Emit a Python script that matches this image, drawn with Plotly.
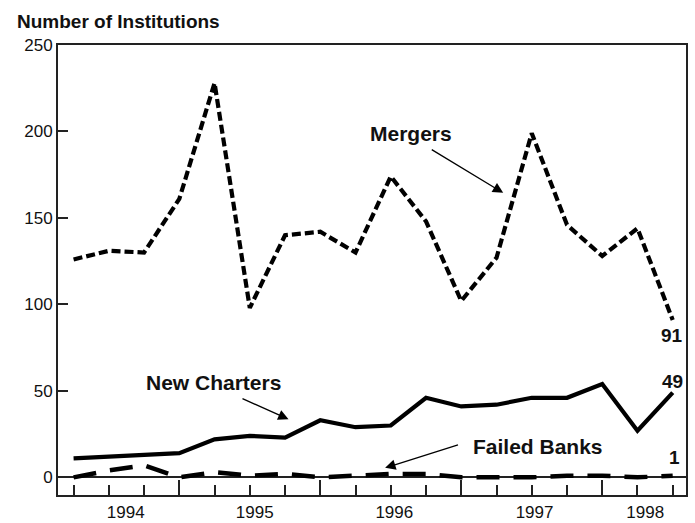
import plotly.graph_objects as go

# quarterly, 1994 Q1 .. 1998 Q2
quarters = list(range(18))
mergers = [126, 131, 130, 161, 228, 98, 140, 142, 130, 174, 148, 102, 127, 199, 146, 128, 144, 91]
new_charters = [11, 12, 13, 14, 22, 24, 23, 33, 29, 30, 46, 41, 42, 46, 46, 54, 27, 49]
failed_banks = [0, 4, 7, 0, 3, 1, 2, 0, 1, 2, 2, 0, 0, 0, 1, 1, 0, 1]

year_labels = ["1994", "1995", "1996", "1997", "1998"]
year_pos = [1.48, 5.14, 9.1, 13.08, 16.22]
year_breaks = [3, 7, 11, 15]

FONT = "Liberation Sans, Arial, sans-serif"
INK = "#222222"

fig = go.Figure()
# failed banks sits on the overlay axis that carries the year labels (same range)
fig.add_trace(go.Scatter(x=quarters, y=failed_banks, mode="lines", xaxis="x2",
                         line=dict(color="black", width=4.5, dash="23px,14px")))
fig.add_trace(go.Scatter(x=quarters, y=new_charters, mode="lines",
                         line=dict(color="black", width=4.2)))
fig.add_trace(go.Scatter(x=quarters, y=mergers, mode="lines",
                         line=dict(color="black", width=4.2, dash="9px,4px")))

xr = [-0.442, 17.377]
fig.update_layout(
    width=695, height=523,
    margin=dict(l=58, r=9, t=45, b=28, autoexpand=False),
    plot_bgcolor="white", paper_bgcolor="white",
    showlegend=False, hovermode=False,
    font=dict(family=FONT, size=17, color="#111111"),
    xaxis=dict(range=xr, tickvals=year_breaks, ticks="inside", ticklen=15, tickwidth=1.5,
               tickcolor=INK, showticklabels=False, showgrid=False, zeroline=False,
               showline=True, linewidth=2, linecolor=INK, mirror=True,
               minor=dict(tick0=0, dtick=1, ticks="inside", ticklen=10, tickwidth=1.5,
                          tickcolor=INK, showgrid=False)),
    xaxis2=dict(range=xr, overlaying="x", anchor="y", side="bottom",
                tickvals=year_pos, ticktext=year_labels, ticks="", showline=False,
                showgrid=False, zeroline=False, ticklabelstandoff=5,
                tickfont=dict(family=FONT, size=17, color="#111111")),
    yaxis=dict(range=[-10.2, 250], tickvals=[0, 50, 100, 150, 200, 250], ticks="inside",
               ticklen=10, tickwidth=1.5, tickcolor=INK, showgrid=False,
               zeroline=True, zerolinecolor=INK, zerolinewidth=1.5,
               showline=True, linewidth=2, linecolor=INK, mirror=True,
               tickfont=dict(family=FONT, size=17, color="#111111")),
)

bold = dict(family=FONT, size=21, color="#111111")
fig.add_annotation(xref="paper", yref="paper", x=-0.068, y=1.052, xanchor="left",
                   yanchor="middle", text="<b>Number of Institutions</b>", showarrow=False,
                   font=dict(family=FONT, size=19, color="#111111"))

for txt, x, y in [("Mergers", 9.58, 199.1), ("New Charters", 3.98, 55.0),
                  ("Failed Banks", 13.19, 18.1)]:
    fig.add_annotation(x=x, y=y, text=f"<b>{txt}</b>", showarrow=False, font=bold)

for txt, x, y in [("91", 16.97, 82.1), ("49", 16.99, 55.5), ("1", 17.04, 11.3)]:
    fig.add_annotation(x=x, y=y, text=f"<b>{txt}</b>", showarrow=False,
                       font=dict(family=FONT, size=19, color="#111111"))

# pointer arrows: (head x, head y, tail x, tail y)
for hx, hy, tx, ty in [(12.19, 164.5, 10.12, 190.0), (6.10, 33.6, 4.75, 45.9),
                       (8.84, 5.5, 10.95, 19.0)]:
    fig.add_annotation(x=hx, y=hy, ax=tx, ay=ty, axref="x", ayref="y", text="",
                       showarrow=True, arrowhead=2, arrowsize=1.6, arrowwidth=1.3,
                       arrowcolor="black")

fig.write_html("out.html", config={"displayModeBar": False},
               post_script="document.body.style.margin='0px';")
